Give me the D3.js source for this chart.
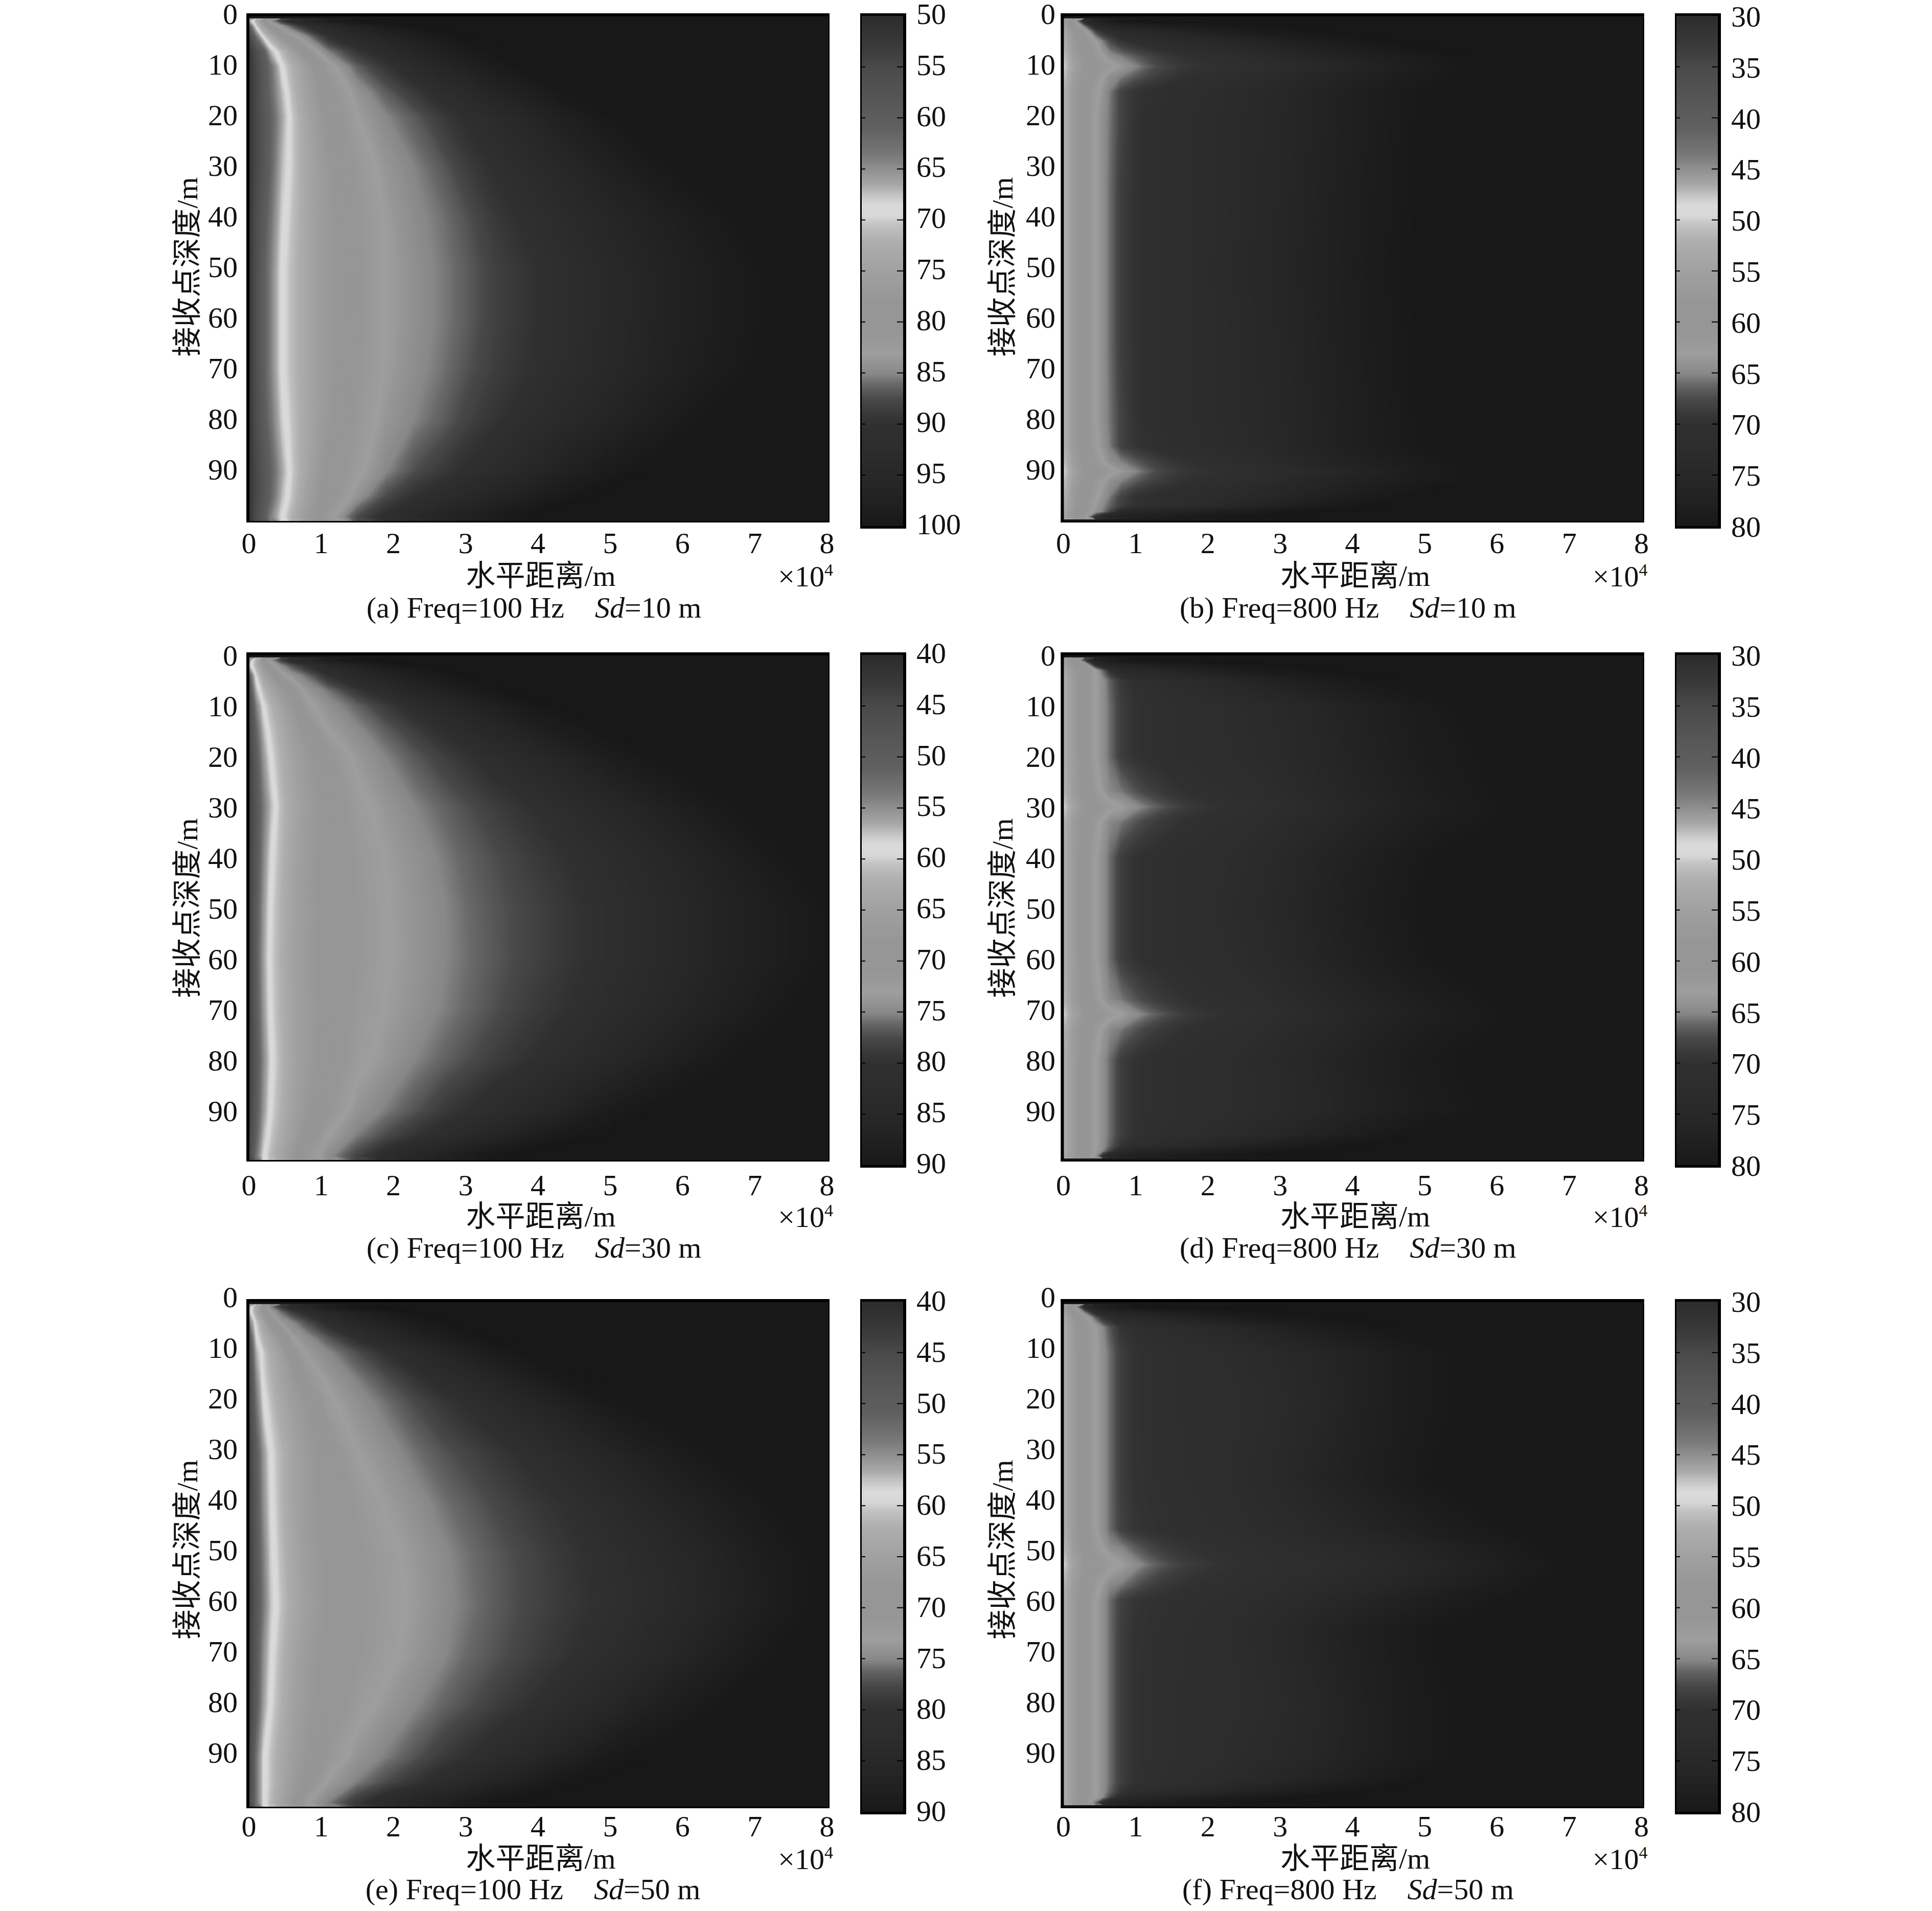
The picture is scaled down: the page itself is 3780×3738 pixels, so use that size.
<!DOCTYPE html>
<html>
<head>
<meta charset="utf-8">
<script src="https://cdn.jsdelivr.net/npm/d3@7"></script>
<style>
body { margin: 0; background: #fff; }
text { font-family: "Liberation Serif", "Noto Sans CJK SC", serif; font-size: 58px; fill: #111; }
</style>
</head>
<body>
<div id="chart"></div>
<script>
// range columns (x 10^4 m) and receiver depths (m), TL in dB
const rangeLow = [0, .1, .2, .3, .45, .6, .8, 1.1, 1.5, 1.9, 2.3, 2.7, 3, 3.4, 3.8, 4.3, 5, 5.7, 6.5, 7.3, 8];
const rangeHigh = [0, .15, .3, .45, .55, .65, .8, 1, 1.3, 1.7, 2.2, 2.8, 3.5, 4.2, 5, 6, 7, 8];
const depthLow = [1, 2, 4, 7, 10, 15, 20, 30, 40, 50, 60, 70, 80, 90, 95, 99];

const tlA = [
  [66, 72, 79, 84, 88.5, 91.5, 94, 97.5, 100, 101, 102, 102, 102, 102, 102, 102, 102, 102, 102, 102, 102],
  [60, 69.5, 75, 80, 84, 86.8, 90, 93, 96, 98.5, 100, 101, 102, 102, 102, 102, 102, 102, 102, 102, 102],
  [55, 63, 69.5, 73, 78, 82, 85, 90, 93, 95.5, 97.5, 99.3, 100.5, 101, 102, 102, 102, 102, 102, 102, 102],
  [52, 56, 60, 67, 71, 75, 80.5, 85.3, 89.2, 92, 95, 97, 98.3, 100, 101, 102, 102, 102, 102, 102, 102],
  [52, 55, 59, 62.5, 68.8, 72, 76, 82, 86.4, 89.3, 92.2, 95, 96.5, 98.5, 100.2, 101, 102, 102, 102, 102, 102],
  [52, 55, 58.5, 62, 67, 71, 75, 80, 84, 86.6, 89, 91.5, 93, 95.5, 97.2, 99.5, 101, 102, 102, 102, 102],
  [52, 55, 58, 61, 66, 70, 74, 79, 83, 85, 86.7, 88.9, 90.5, 92.5, 94.5, 97, 99.7, 101, 102, 102, 102],
  [52, 55, 58, 61.5, 67, 70, 73.5, 77.5, 81.5, 83.8, 85.2, 86.8, 88.4, 90.4, 92, 94.2, 97, 99.4, 101, 102, 102],
  [52, 56, 59.5, 63, 68, 70.5, 73.5, 77, 81, 83.2, 84.7, 85.8, 87, 88.9, 90.4, 92.3, 95, 97, 99.2, 100.8, 102],
  [52, 56.5, 60.5, 64, 68.8, 71, 73.5, 77, 80.8, 83, 84.4, 85.5, 86.5, 88.2, 89.4, 91.2, 93.9, 96.2, 98.3, 100.2, 101.5],
  [52, 56.5, 60.5, 64, 68.8, 71, 73.5, 77, 80.8, 83, 84.4, 85.5, 86.5, 88.2, 89.4, 91.2, 93.9, 96.2, 98.3, 100.2, 101.5],
  [52, 56.5, 60.5, 64, 68.8, 71, 73.5, 77, 81, 83.2, 84.6, 85.8, 87, 88.5, 89.7, 91.5, 94.2, 96.5, 98.7, 100.5, 102],
  [52, 56, 59.5, 63, 67.8, 70.5, 73.5, 77.5, 81.5, 83.8, 85.2, 86.6, 88, 89.6, 91.3, 93.2, 95.8, 98, 100.5, 102, 102],
  [52, 55, 58, 61, 66, 70, 74, 79, 82.5, 85, 87.3, 89, 90.5, 92.2, 94, 96.5, 99, 101, 102, 102, 102],
  [52, 55, 58, 61.5, 67, 70.5, 75, 80, 84, 87.5, 90, 92, 93.5, 95.4, 97, 99, 101, 102, 102, 102, 102],
  [52, 56, 59.5, 64, 68.5, 72, 76.5, 82, 87.4, 90.6, 93, 95.5, 96.8, 98.5, 100, 102, 102, 102, 102, 102, 102]
];

const tlC = [
  [55, 62, 69, 74, 78.5, 81.5, 84, 87.5, 90, 91, 92, 92, 92, 92, 92, 92, 92, 92, 92, 92, 92],
  [57, 62, 67, 71.5, 75, 77.3, 80, 83, 86.2, 88.5, 90, 91, 92, 92, 92, 92, 92, 92, 92, 92, 92],
  [50, 59.5, 64, 67, 72, 74, 76, 80, 83, 85.5, 87.5, 89.3, 90.5, 91, 92, 92, 92, 92, 92, 92, 92],
  [47, 57, 61, 63.5, 67, 70.5, 73.6, 75.7, 79.2, 82, 85, 86.8, 88.1, 89.8, 91, 92, 92, 92, 92, 92, 92],
  [45, 54, 59, 61.5, 64.5, 67.5, 72.3, 74.3, 76.3, 78.8, 81.2, 83.8, 85.4, 87, 89, 90.5, 91, 92, 92, 92, 92],
  [44, 51.5, 57, 60, 63, 65.5, 69, 73, 74.7, 76.5, 78.5, 80.5, 82.2, 84.5, 86.2, 88.2, 90.3, 91, 92, 92, 92],
  [43, 50, 55.5, 59, 62, 64.5, 67, 70.5, 73.6, 75.2, 76.8, 78.4, 79.6, 81.4, 83.2, 85.4, 88.2, 90.3, 91, 92, 92],
  [43, 48.5, 53.5, 57, 61, 63.5, 66, 69, 72.3, 73.8, 75.1, 76.3, 77.2, 78.5, 79.7, 81.5, 84.2, 86.7, 89.3, 90.5, 91],
  [43, 49, 54.5, 58.5, 61.5, 64, 66.5, 69, 71.5, 73.1, 74.2, 75.4, 76.3, 77.3, 78.4, 79.7, 82, 84.3, 86.8, 89.3, 90.5],
  [43, 50, 55.5, 59.2, 62, 64.3, 66.5, 69, 71.2, 72.9, 74, 75, 75.9, 76.9, 77.8, 79, 81, 83.3, 86, 88, 89.8],
  [43, 50.5, 56, 59.5, 62.2, 64.5, 66.7, 69, 71.2, 72.9, 73.9, 75, 75.8, 76.8, 77.8, 79, 81, 83.3, 86, 88, 89.8],
  [43, 50, 55.5, 59.2, 62, 64.3, 66.5, 69, 71.7, 73.1, 74.2, 75.3, 76.1, 77.2, 78.4, 79.7, 82, 84.3, 86.8, 89.3, 90.5],
  [43, 49, 54.5, 58.5, 61.5, 64, 66.5, 69.5, 72.3, 73.8, 75.1, 76.3, 77.2, 78.5, 79.7, 81.5, 84.2, 86.7, 89.3, 90.5, 91],
  [43, 50, 55.5, 59.2, 62, 64.7, 67.5, 71, 74, 75.4, 77, 78.8, 80, 81.7, 83.3, 85.4, 88.5, 90.5, 91, 92, 92],
  [44, 51, 57, 60, 63, 65.5, 69, 73, 75.4, 77.5, 79.5, 81.5, 83, 85, 86.8, 89, 90.5, 91, 92, 92, 92],
  [45, 53, 58.5, 61, 64, 67, 71.5, 74.5, 78, 81.4, 84.3, 86.5, 88, 89.8, 91, 92, 92, 92, 92, 92, 92]
];

const tlE = [
  [56, 63, 70, 75, 79, 82, 84.5, 88, 90, 91, 92, 92, 92, 92, 92, 92, 92, 92, 92, 92, 92],
  [57, 63, 68.5, 73, 76, 78.5, 81, 84, 87, 89, 90.5, 91, 92, 92, 92, 92, 92, 92, 92, 92, 92],
  [53, 60, 64.5, 69, 73.5, 75, 77.3, 81, 84.2, 86.5, 88.5, 90, 91, 92, 92, 92, 92, 92, 92, 92, 92],
  [48, 58.5, 62, 64.5, 68.5, 73, 74.5, 77, 80.7, 83.6, 86, 88, 89.3, 90.5, 91, 92, 92, 92, 92, 92, 92],
  [46, 56.5, 60, 62.5, 65.5, 70, 73.3, 74.9, 77.3, 80, 82.5, 85, 86.5, 88.5, 90, 91, 92, 92, 92, 92, 92],
  [45, 54.5, 59.5, 61.5, 64.5, 67, 71, 73.6, 75.4, 77.3, 79.5, 82, 83.3, 85.5, 87.2, 89.4, 91, 92, 92, 92, 92],
  [44, 53, 58.5, 60.5, 63.5, 65.5, 68, 72.5, 74.3, 75.8, 77.5, 79.2, 80.5, 82.5, 84.5, 86.6, 89.5, 91, 92, 92, 92],
  [43, 50, 55.5, 59, 61.5, 64, 66.5, 69.5, 73, 74.3, 75.7, 77, 77.8, 79.1, 80.4, 82.5, 85.4, 87.9, 90, 91, 91],
  [43, 49.5, 55, 58.5, 61.5, 64, 66.5, 69, 71.5, 73.2, 74.4, 75.7, 76.5, 77.6, 78.7, 80, 82.7, 85.3, 87.8, 89.8, 91],
  [42.5, 49, 54, 58, 61, 63.5, 66, 68.5, 70.8, 72.4, 73.6, 74.8, 75.7, 76.7, 77.7, 79, 81, 83.3, 86, 88.7, 90.3],
  [42.5, 48.5, 53.5, 57.5, 60.5, 63, 65.5, 68.2, 70.6, 72.2, 73.4, 74.7, 75.5, 76.6, 77.6, 78.8, 80.7, 83, 85.7, 88.4, 90.2],
  [43, 49.5, 55, 58.5, 61.5, 64, 66.5, 68.8, 71, 72.5, 73.8, 75, 76, 77, 78.1, 79.5, 81.8, 84.3, 87.2, 89.8, 91],
  [43, 50, 56, 59.2, 62, 64.5, 67, 69.5, 72.2, 73.7, 75, 76.3, 77.2, 78.5, 79.7, 81.7, 84.6, 87.5, 89.8, 91, 91],
  [44, 53, 58.5, 60.5, 63.3, 65.5, 68, 71.5, 74, 75.4, 77, 78.8, 80, 81.8, 83.6, 86, 89, 90.7, 91, 92, 92],
  [44, 53, 58.5, 60.5, 63.5, 66, 69.5, 73.3, 75.4, 77.5, 79.5, 82, 83.3, 85.5, 87.2, 89.4, 91, 92, 92, 92, 92],
  [45, 53, 58.5, 61, 64.5, 67.5, 73, 75.3, 79, 82.2, 85, 87, 88.5, 90.3, 91, 92, 92, 92, 92, 92, 92]
];

const depthB = [1, 2, 3, 5, 8, 10, 12, 15, 20, 35, 50, 65, 80, 85, 88, 90, 92, 95, 97, 98, 99];
const tlB = [
  [55, 62, 72, 76, 77, 78, 79, 80, 80.5, 81, 81, 81, 81, 81, 81, 81, 81, 81],
  [54, 60, 66, 72, 73.5, 74.5, 75.5, 76, 77, 78, 79, 80, 81, 81, 81, 81, 81, 81],
  [53, 58, 62, 68, 70, 71, 72.5, 73.5, 74.5, 76, 77.5, 79, 80, 81, 81, 81, 81, 81],
  [52, 57, 60.5, 63, 65.5, 67.5, 69.5, 70.5, 71.5, 72.5, 74, 76, 78, 79.5, 81, 81, 81, 81],
  [50, 56, 59, 61.5, 63, 64.5, 65.3, 66.7, 68.5, 70, 71, 72.6, 75, 77, 79, 81, 81, 81],
  [49, 55, 58, 60, 61, 62, 63.5, 65, 67.5, 69.3, 70.3, 71.5, 73.5, 76, 78.5, 80.5, 81, 81],
  [50, 56, 59, 61.5, 63, 64.5, 65.3, 66.7, 68.5, 70, 71, 72.4, 75, 77, 79, 81, 81, 81],
  [51, 57, 60, 62.5, 64, 65.5, 68, 69.5, 70.5, 71.3, 72.2, 73.7, 76, 78, 80, 81, 81, 81],
  [51, 57, 60, 63, 64.5, 65.7, 68, 69.7, 70.8, 71.5, 72.5, 74, 76, 78, 80, 81, 81, 81],
  [51, 57, 60, 63, 64.5, 66, 68.5, 69.8, 70.8, 71.5, 72.5, 74.2, 76.3, 78.3, 80.2, 81, 81, 81],
  [51, 57, 60, 63, 64.5, 66, 68.5, 69.8, 70.8, 71.5, 72.8, 74.5, 76.5, 78.5, 80.5, 81, 81, 81],
  [51, 57, 60, 63, 64.5, 66, 68.5, 69.8, 70.8, 71.5, 72.5, 74.2, 76.3, 78.3, 80.2, 81, 81, 81],
  [51, 57, 60, 63, 64.5, 65.7, 68, 69.7, 70.8, 71.5, 72.5, 74, 76, 78, 80, 81, 81, 81],
  [51, 57, 60, 62.5, 64, 65.5, 68, 69.5, 70.5, 71.3, 72.2, 73.7, 76, 78, 80, 81, 81, 81],
  [50, 56, 59, 61.5, 63, 64.5, 65.3, 66.7, 68.5, 70, 71, 72.4, 75, 77, 79, 81, 81, 81],
  [49, 55, 58, 60, 61, 62, 63.5, 65, 67.5, 69.3, 70.3, 71.5, 73.5, 76, 78.5, 80.5, 81, 81],
  [50, 56, 59, 61.5, 63, 64.5, 65.3, 66.7, 68.5, 70, 71, 72.4, 75, 77, 79, 81, 81, 81],
  [51, 57, 60, 62.5, 64, 65.5, 68, 69.8, 70.8, 71.5, 72.5, 74.2, 76.5, 78.5, 80.5, 81, 81, 81],
  [52, 57, 60.5, 63.5, 65, 66.5, 68.5, 70, 71, 72, 73.5, 76, 78.5, 80, 81, 81, 81, 81],
  [53, 58, 61, 64, 65.5, 68, 72, 74, 75, 76, 77.5, 79, 80.5, 81, 81, 81, 81, 81],
  [54, 58, 62, 70, 73, 75, 76, 77, 77.5, 78.5, 79.5, 80.5, 81, 81, 81, 81, 81, 81]
];

const depthD = [1, 2, 3, 5, 10, 20, 27, 30, 33, 40, 50, 60, 68, 71, 74, 80, 90, 95, 97, 98, 99];
const tlD = [
  [55, 60, 68, 76, 77, 78, 79, 80, 80.5, 81, 81, 81, 81, 81, 81, 81, 81, 81],
  [54, 58, 61, 70, 73, 74.5, 75.5, 76, 77, 78, 79, 80, 81, 81, 81, 81, 81, 81],
  [53, 57, 60, 63, 66.5, 70, 72.5, 73.5, 74.5, 76, 77.5, 79, 80, 81, 81, 81, 81, 81],
  [52, 56.5, 60, 63, 64.5, 66.5, 69, 70.3, 71.3, 72.5, 74, 76, 78, 79.5, 81, 81, 81, 81],
  [52, 56.5, 60, 63, 64.5, 66, 68.5, 69.8, 70.5, 71, 71.8, 73, 75, 77, 79, 80.5, 81, 81],
  [52, 56.5, 60, 63, 64.5, 66, 68.5, 69.8, 70.5, 71, 71.5, 72.5, 74.5, 76.5, 78.5, 80, 81, 81],
  [51, 56.5, 59.5, 62, 63.5, 65, 65.5, 67, 68.7, 70, 70.8, 71.8, 74, 76, 78, 79.8, 81, 81],
  [49, 55, 58, 60, 61, 62, 63, 64.5, 66.5, 68.7, 70, 71, 73, 75.5, 77.5, 79.5, 81, 81],
  [51, 56.5, 59.5, 62, 63.5, 65, 65.5, 67, 68.7, 70, 70.8, 71.8, 74, 76, 78, 79.8, 81, 81],
  [52, 56.5, 60, 63, 64.5, 66, 68.5, 69.8, 70.5, 71, 71.5, 73, 75.5, 77.5, 79.5, 81, 81, 81],
  [52, 56.5, 60, 63, 64.5, 66, 68.5, 69.8, 70.5, 71, 72, 73.5, 76, 78, 80, 81, 81, 81],
  [52, 56.5, 60, 63, 64.5, 66, 68.5, 69.8, 70.5, 71, 71.5, 73, 75.5, 77.5, 79.5, 81, 81, 81],
  [51, 56.5, 59.5, 62, 63.5, 65, 65.5, 67, 68.7, 70, 70.8, 71.8, 74, 76, 78, 79.8, 81, 81],
  [49, 55, 58, 60, 61, 62, 63, 64.5, 66.5, 68.7, 70, 71, 73, 75.5, 77.5, 79.5, 81, 81],
  [51, 56.5, 59.5, 62, 63.5, 65, 65.5, 67, 68.7, 70, 70.8, 71.8, 74, 76, 78, 79.8, 81, 81],
  [52, 56.5, 60, 63, 64.5, 66, 68.5, 69.8, 70.5, 71, 71.5, 72.8, 75, 77, 79, 80.5, 81, 81],
  [52, 56.5, 60, 63, 64.5, 66, 68.5, 69.8, 70.5, 71, 71.5, 72.5, 74.5, 76.5, 78.5, 80, 81, 81],
  [52, 56.5, 60, 63, 64.5, 66, 68.5, 70, 70.8, 71.5, 72.5, 74, 76.5, 78.5, 80.5, 81, 81, 81],
  [52, 56.5, 60, 63, 64.5, 66.5, 69.5, 71, 72, 73, 75, 77, 79, 80.5, 81, 81, 81, 81],
  [52, 56.5, 60, 63, 65, 68, 72, 74, 75, 76, 77.5, 79, 80.5, 81, 81, 81, 81, 81],
  [53, 57, 60.5, 64, 70, 74, 76, 77, 77.5, 78.5, 79.5, 80.5, 81, 81, 81, 81, 81, 81]
];

const depthF = [1, 2, 3, 5, 10, 20, 35, 45, 48, 52, 56, 59, 65, 80, 90, 95, 97, 98, 99];
const tlF = [
  [55, 62, 72, 76, 77, 78, 79, 80, 80.5, 81, 81, 81, 81, 81, 81, 81, 81, 81],
  [54, 60, 66, 72, 73.5, 74.5, 75.5, 76, 77, 78, 79, 80, 81, 81, 81, 81, 81, 81],
  [53, 58, 62, 67, 70, 71, 72.5, 73.5, 74.5, 76, 77.5, 79, 80, 81, 81, 81, 81, 81],
  [52, 57, 60.5, 63, 65, 67, 69.5, 70.5, 71.5, 72.5, 74, 76, 78, 79.5, 81, 81, 81, 81],
  [52, 57, 60, 63, 64.5, 66, 68.5, 69.8, 70.5, 71, 71.8, 73, 75, 77, 79, 80.5, 81, 81],
  [52, 57, 60, 63, 64.5, 66, 68.5, 69.8, 70.5, 71, 71.2, 72.3, 74.5, 77, 79, 80.5, 81, 81],
  [52, 57, 60, 63, 64.5, 66, 68.5, 69.8, 70.3, 70.8, 71.5, 73, 75.5, 77.5, 79.5, 81, 81, 81],
  [52, 57, 60, 63, 64.5, 66, 68.2, 69.4, 70, 70.5, 71, 72, 73.5, 75.5, 77.5, 79.5, 81, 81],
  [51, 56.5, 59.5, 62, 63.5, 65, 65.5, 67, 68.7, 69.8, 70.4, 71.2, 72.5, 74, 76, 78.5, 80.5, 81],
  [49, 55, 58, 60, 61, 62, 63, 64.5, 66.5, 68.5, 69.8, 70.6, 71.5, 73, 75, 77.5, 80, 81],
  [51, 56.5, 59.5, 62, 63.5, 65, 65.5, 67, 68.7, 69.8, 70.4, 71.2, 72.5, 74, 76, 78.5, 80.5, 81],
  [52, 57, 60, 63, 64.5, 66, 68.2, 69.4, 70, 70.5, 71, 72, 73.5, 75.5, 77.5, 79.5, 81, 81],
  [52, 57, 60, 63, 64.5, 66, 68.5, 69.8, 70.3, 70.8, 71.5, 73, 75.5, 77.5, 79.5, 81, 81, 81],
  [52, 57, 60, 63, 64.5, 66, 68.5, 69.8, 70.5, 71, 71.2, 72.3, 74.5, 77, 79, 80.5, 81, 81],
  [52, 57, 60, 63, 64.5, 66, 68.5, 69.8, 70.5, 71, 71.8, 73, 75, 77, 79, 80.5, 81, 81],
  [52, 57, 60, 63, 64.5, 66, 68.5, 70, 70.8, 71.5, 72.5, 74.5, 76.5, 78.5, 80.5, 81, 81, 81],
  [52, 57, 60, 63, 64.5, 66.5, 69.5, 71, 72, 73, 75, 77, 79, 80.5, 81, 81, 81, 81],
  [52, 57, 60, 63, 65, 68, 72, 74, 75, 76, 77.5, 79, 80.5, 81, 81, 81, 81, 81],
  [53, 57.5, 61, 66, 71, 74.5, 76, 77, 77.5, 78.5, 79.5, 80.5, 81, 81, 81, 81, 81, 81]
];

const captions = [
  ['(a) Freq=100 Hz', '=10 m'], ['(b) Freq=800 Hz', '=10 m'],
  ['(c) Freq=100 Hz', '=30 m'], ['(d) Freq=800 Hz', '=30 m'],
  ['(e) Freq=100 Hz', '=50 m'], ['(f) Freq=800 Hz', '=50 m']
];
const tlRanges = [[50, 100], [30, 80], [40, 90], [30, 80], [40, 90], [30, 80]];
const xTicks = [0, 1, 2, 3, 4, 5, 6, 7, 8];
const yTicks = [0, 10, 20, 30, 40, 50, 60, 70, 80, 90];

// colour bar ramp as printed: position along the bar -> grey level
const rampPos = [0, .05, .1, .17, .22, .27, .3, .33, .35, .37, .39, .41, .44, .5, .56, .62, .66, .7, .72, .75, .78, .8, .9, 1];
const rampGrey = [44, 56, 74, 88, 96, 120, 144, 168, 196, 218, 216, 192, 174, 160, 150, 150, 158, 136, 104, 72, 56, 48, 38, 24];

const panels = [
  { tl: tlA, xs: rangeLow, ds: depthLow },
  { tl: tlB, xs: rangeHigh, ds: depthB },
  { tl: tlC, xs: rangeLow, ds: depthLow },
  { tl: tlD, xs: rangeHigh, ds: depthD },
  { tl: tlE, xs: rangeLow, ds: depthLow },
  { tl: tlF, xs: rangeHigh, ds: depthF }
];

// page layout, columns then rows
const colLeft = [482, 2075.5];
const plotW = 1141;
const plotH = 996;
const rowTop = [26, 1276, 2541];
const xTickBase = [1082, 2338, 3592];
const xLabelBase = [1146, 2399, 3655];
const captionBase = [1208, 2460, 3715];
const captionLeft = [[717, 2308], [717, 2308], [715, 2313]];
const yShift = [-4.5, 1, -9];
const yLabelMid = [496, 500, 490];
const yTickGap = [17, 10.5];
const barGap = [60, 60.5];
const barW = 90;
const barShift = [[-4, 1], [-4, 1], [-2, 0]];

const ramp = d3.scaleLinear().domain(rampPos).range(rampGrey).clamp(true);
const grey = t => { const g = Math.round(ramp(t)); return `rgb(${g},${g},${g})`; };

const svg = d3.select('#chart').append('svg')
  .attr('width', 3780)
  .attr('height', 3738)
  .style('display', 'block');
svg.append('rect').attr('width', 3780).attr('height', 3738).attr('fill', '#fff');

const defs = svg.append('defs');

panels.forEach((p, i) => {
  const col = i % 2;
  const row = Math.floor(i / 2);
  const left = colLeft[col];
  const top = rowTop[row];
  const g = svg.append('g');

  const x = d3.scaleLinear().domain([0, 8]).range([left + 5, left + plotW - 5]);
  const y = d3.scaleLinear().domain([0, 90]).range([top + 5, top + 5 + 891]);
  const colIdx = d3.scaleLinear().domain(d3.range(p.xs.length)).range(p.xs);
  const rowIdx = d3.scaleLinear().domain(d3.range(p.ds.length)).range(p.ds);

  const clipId = `clip${i}`;
  defs.append('clipPath').attr('id', clipId).append('rect')
    .attr('x', left).attr('y', top).attr('width', plotW).attr('height', plotH);

  g.append('rect')
    .attr('x', left).attr('y', top).attr('width', plotW).attr('height', plotH)
    .attr('fill', '#181818');

  const [lo, hi] = tlRanges[i];
  const values = p.tl.flat();
  const thresholds = [d3.min(values) - 1].concat(d3.range(lo, hi + 1, 0.1));
  const contours = d3.contours()
    .size([p.xs.length, p.ds.length])
    .thresholds(thresholds)(values);

  // contour coordinates are cell index + 0.5, columns and rows are not evenly spaced
  const path = d3.geoPath(d3.geoTransform({
    point(cx, cy) {
      this.stream.point(x(colIdx(cx - 0.5)), y(rowIdx(cy - 0.5)));
    }
  }));

  g.append('g')
    .attr('clip-path', `url(#${clipId})`)
    .selectAll('path')
    .data(contours)
    .enter().append('path')
    .attr('d', path)
    .attr('fill', d => grey((d.value - lo) / (hi - lo)));

  // heavy frame, top and left edge of the image are black in the print
  g.append('rect').attr('x', left).attr('y', top).attr('width', plotW).attr('height', 6).attr('fill', '#000');
  g.append('rect').attr('x', left).attr('y', top).attr('width', 6).attr('height', plotH).attr('fill', '#000');
  g.append('rect').attr('x', left).attr('y', top + plotH - 3).attr('width', plotW).attr('height', 3).attr('fill', '#000');
  g.append('rect').attr('x', left + plotW - 2).attr('y', top).attr('width', 2).attr('height', plotH).attr('fill', '#000');

  g.selectAll('.xtick').data(xTicks).enter().append('text')
    .attr('x', d => x(d))
    .attr('y', xTickBase[row])
    .attr('text-anchor', 'middle')
    .text(d => d);

  g.selectAll('.ytick').data(yTicks).enter().append('text')
    .attr('x', left - yTickGap[col])
    .attr('y', d => y(d) + yShift[row] + 20)
    .attr('text-anchor', 'end')
    .text(d => d);

  g.append('text')
    .attr('transform', `translate(${left - 116 + col * 1.5 + 20},${top + yLabelMid[row]}) rotate(-90)`)
    .attr('text-anchor', 'middle')
    .text('接收点深度/m');

  g.append('text')
    .attr('x', left + 576)
    .attr('y', xLabelBase[row])
    .attr('text-anchor', 'middle')
    .text('水平距离/m');

  const power = g.append('text')
    .attr('x', left + plotW + 7)
    .attr('y', xLabelBase[row] + 1)
    .attr('text-anchor', 'end');
  power.append('tspan').text('×10');
  power.append('tspan').attr('dy', -21).style('font-size', '34px').text('4');

  const cap = g.append('text').attr('x', captionLeft[row][col]).attr('y', captionBase[row]);
  cap.append('tspan').text(captions[i][0]);
  cap.append('tspan').attr('dx', 60).style('font-style', 'italic').text('Sd');
  cap.append('tspan').text(captions[i][1]);

  // colour bar
  const barLeft = left + plotW + barGap[col];
  const barTop = top;
  const barH = d3.scaleLinear().domain([lo, hi]).range([top + 5, top + 1003]);
  const barCells = d3.range(0, 250);
  const cellV = d3.scaleLinear().domain([0, 250]).range([lo, hi]);
  const bar = g.append('g');
  bar.selectAll('rect').data(barCells).enter().append('rect')
    .attr('x', barLeft)
    .attr('y', d => barH(cellV(d)))
    .attr('width', barW)
    .attr('height', d => barH(cellV(d + 1)) - barH(cellV(d)) + 0.6)
    .attr('fill', d => grey((cellV(d) - lo) / (hi - lo)));
  bar.append('rect').attr('x', barLeft).attr('y', barTop).attr('width', barW).attr('height', 5).attr('fill', '#000');
  bar.append('rect').attr('x', barLeft).attr('y', top + 1003).attr('width', barW).attr('height', 5).attr('fill', '#000');
  bar.append('rect').attr('x', barLeft).attr('y', barTop).attr('width', 3).attr('height', 1008).attr('fill', '#000');
  bar.append('rect').attr('x', barLeft + barW - 6).attr('y', barTop).attr('width', 6).attr('height', 1008).attr('fill', '#000');

  const barTicks = d3.range(lo, hi + 1, 5);
  bar.selectAll('.tk').data(barTicks.slice(1, -1)).enter().append('path')
    .attr('d', d => `M${barLeft + 3},${barH(d)}h7M${barLeft + barW - 18},${barH(d)}h12`)
    .attr('stroke', '#000')
    .attr('stroke-width', 2)
    .attr('fill', 'none');
  bar.selectAll('text').data(barTicks).enter().append('text')
    .attr('x', barLeft + barW + 20)
    .attr('y', d => barH(d) + 20 + barShift[row][col])
    .text(d => d);
});
</script>
</body>
</html>
